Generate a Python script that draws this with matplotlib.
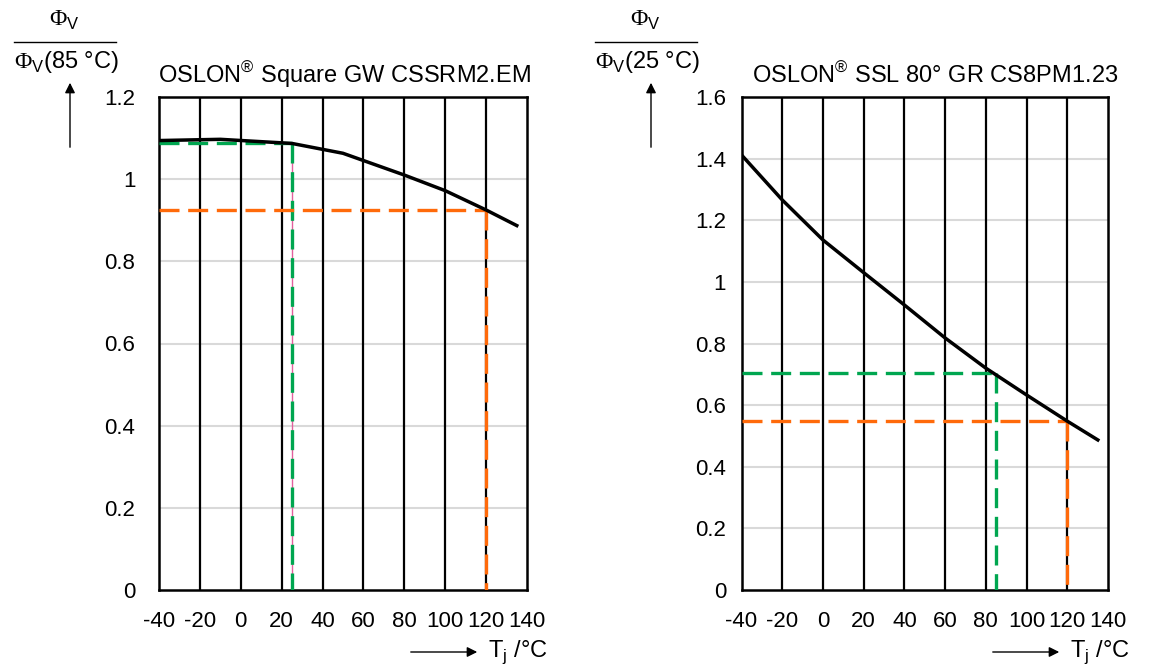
import matplotlib
matplotlib.use("Agg")
import matplotlib.pyplot as plt
from matplotlib.patches import FancyArrowPatch
from matplotlib.lines import Line2D

plt.rcParams['font.family'] = ['Liberation Sans', 'DejaVu Sans']
plt.rcParams['mathtext.fontset'] = 'custom'
plt.rcParams['mathtext.rm'] = 'Liberation Serif'
plt.rcParams['mathtext.sf'] = 'Liberation Sans'
plt.rcParams['axes.unicode_minus'] = False

# left chart: OSLON Square GW CSSRM2.EM, relative to 85 degC
tempSquare = [-40, -10, 25, 50, 80, 100, 120, 135]
fluxSquare = [1.094, 1.097, 1.087, 1.063, 1.010, 0.972, 0.925, 0.887]
refSquare = [(25, 1.087, "#00a650"), (120, 0.925, "#ff6a0a")]

# right chart: OSLON SSL 80 GR CS8PM1.23, relative to 25 degC
tempSSL = [-40, -20, 0, 20, 40, 60, 80, 100, 120, 135]
fluxSSL = [1.412, 1.266, 1.136, 1.030, 0.925, 0.818, 0.720, 0.633, 0.548, 0.487]
refSSL = [(85, 0.705, "#00a650"), (120, 0.548, "#ff6a0a")]

xTicks = [-40, -20, 0, 20, 40, 60, 80, 100, 120, 140]

W, H = 1150, 671


def px(x, y):
    return x / W, 1 - y / H


def drawPanel(fig, rect, temp, flux, refs, ymax, title, refLabel, ylx, xlx, titleX, ytickPad, pinkLine=False):
    ax = fig.add_axes(rect)
    ax.set_xlim(-40, 140)
    ax.set_ylim(0, ymax)
    ax.set_xticks(xTicks)
    n = int(round(ymax / 0.2))
    ax.set_yticks([i * 0.2 for i in range(n + 1)])
    ax.set_yticklabels(["0" if i == 0 else ("%g" % round(i * 0.2, 1)) for i in range(n + 1)])
    ax.tick_params(length=0, labelsize=16)
    ax.tick_params(axis="x", pad=15)
    ax.tick_params(axis="y", pad=ytickPad)
    for y in ax.get_yticks()[1:-1]:
        ax.axhline(y, color="#d9d9d9", lw=1.5, zorder=1)
    for x in xTicks[1:-1]:
        ax.axvline(x, color="black", lw=1.6, zorder=1)
    for s in ax.spines.values():
        s.set_linewidth(1.8)
    for t, v, c in refs:
        if pinkLine and t == 25:
            ax.plot([t, t], [0, v], color="#e2609c", lw=1, zorder=2)
        ax.plot([-40, t], [v, v], color=c, lw=2.4, dashes=(6, 2.6), zorder=3)
        ax.plot([t, t], [v, 0], color=c, lw=2.4, dashes=(6, 2.6), zorder=3)
    ax.plot(temp, flux, color="black", lw=2.5, zorder=4)

    fig.text(*px(titleX, 75), title, fontsize=17, ha="left", va="center")

    # y label as a fraction with an upward arrow
    fig.text(*px(ylx, 20), r"$\Phi_{\mathsf{V}}$", fontsize=17, ha="center", va="center")
    fig.add_artist(Line2D([px(ylx - 50, 0)[0], px(ylx + 52, 0)[0]], [px(0, 42)[1]] * 2,
                          color="black", lw=1, transform=fig.transFigure))
    fig.text(*px(ylx + 2, 62), r"$\Phi_{\mathsf{V}}$" + "(%s °C)" % refLabel, fontsize=17, ha="center", va="center")
    fig.add_artist(FancyArrowPatch(px(ylx + 6, 150), px(ylx + 6, 80), transform=fig.transFigure,
                                   arrowstyle="-|>,head_length=6,head_width=3", color="black", lw=1))

    # x label with arrow
    fig.add_artist(FancyArrowPatch(px(xlx, 652), px(xlx + 72, 652), transform=fig.transFigure,
                                   arrowstyle="-|>,head_length=6,head_width=3", color="black", lw=1))
    fig.text(*px(xlx + 80, 652), r"T$_{\mathsf{j}}$ /°C", fontsize=17, ha="left", va="center")
    return ax


fig = plt.figure(figsize=(11.5, 6.71), dpi=100)
drawPanel(fig, [159 / W, 1 - 590 / H, 368 / W, 493 / H], tempSquare, fluxSquare, refSquare, 1.2,
          r"OSLON$^{\mathsf{®}}$ Square GW CSSRM2.EM", "85", 64, 408, 158, 17, pinkLine=True)
drawPanel(fig, [741.5 / W, 1 - 590 / H, 366.5 / W, 493 / H], tempSSL, fluxSSL, refSSL, 1.6,
          r"OSLON$^{\mathsf{®}}$ SSL 80° GR CS8PM1.23", "25", 645, 990, 752, 11)
fig.savefig("out.png", dpi=100)
